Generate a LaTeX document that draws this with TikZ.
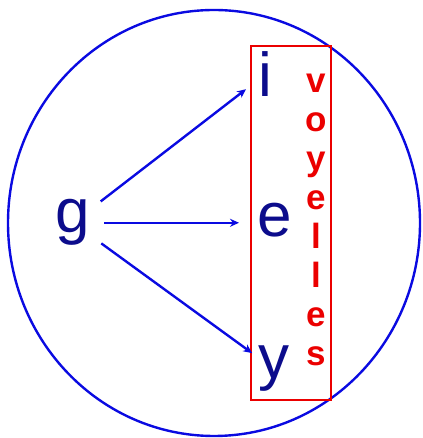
\documentclass[tikz,border=0pt]{standalone}
\usepackage{fontspec}
\setmainfont{Liberation Sans}
\usetikzlibrary{arrows.meta}
\definecolor{lettreblue}{RGB}{12,12,140}
\definecolor{traitblue}{RGB}{10,10,225}
\definecolor{voyred}{RGB}{235,0,0}
\tikzset{
  lettre/.style={inner sep=0pt, anchor=base, text=lettreblue,
    font=\fontsize{62}{62}\selectfont},
  voyelle/.style={inner sep=0pt, anchor=base, text=voyred,
    font=\bfseries\fontsize{35}{35}\selectfont},
  fleche/.style={traitblue, line width=2.4pt, -{Stealth[length=9pt,width=8pt]}}
}
\begin{document}
\begin{tikzpicture}[x=1pt,y=1pt]
    \useasboundingbox (0,0) rectangle (422,438);
    \draw[traitblue, line width=2.4pt] (214,215) ellipse [x radius=206, y radius=213];
    \draw[voyred, line width=2.4pt] (251,38) rectangle (331,392);
    % lettres
    \node[lettre] (g) at (73,205) {g};
    \node[lettre] (i) at (265,341) {i};
    \node[lettre] (e) at (275,201) {e};
    \node[lettre] (y) at (274,59) {y};
    \foreach \c [count=\k from 0] in {v,o,y,e,l,l,e,s}
        \node[voyelle] (v\k) at (316,345-39*\k) {\c};
    % fleches
    \draw[fleche, shorten <=35pt, shorten >=24pt] (g.center) -- (i.center);
    \draw[fleche, shorten <=31pt, shorten >=36pt] (g.center) -- (g.center -| e.center);
    \draw[fleche, shorten <=35pt, shorten >=27pt] (g.center) -- (y.center);
\end{tikzpicture}
\end{document}
